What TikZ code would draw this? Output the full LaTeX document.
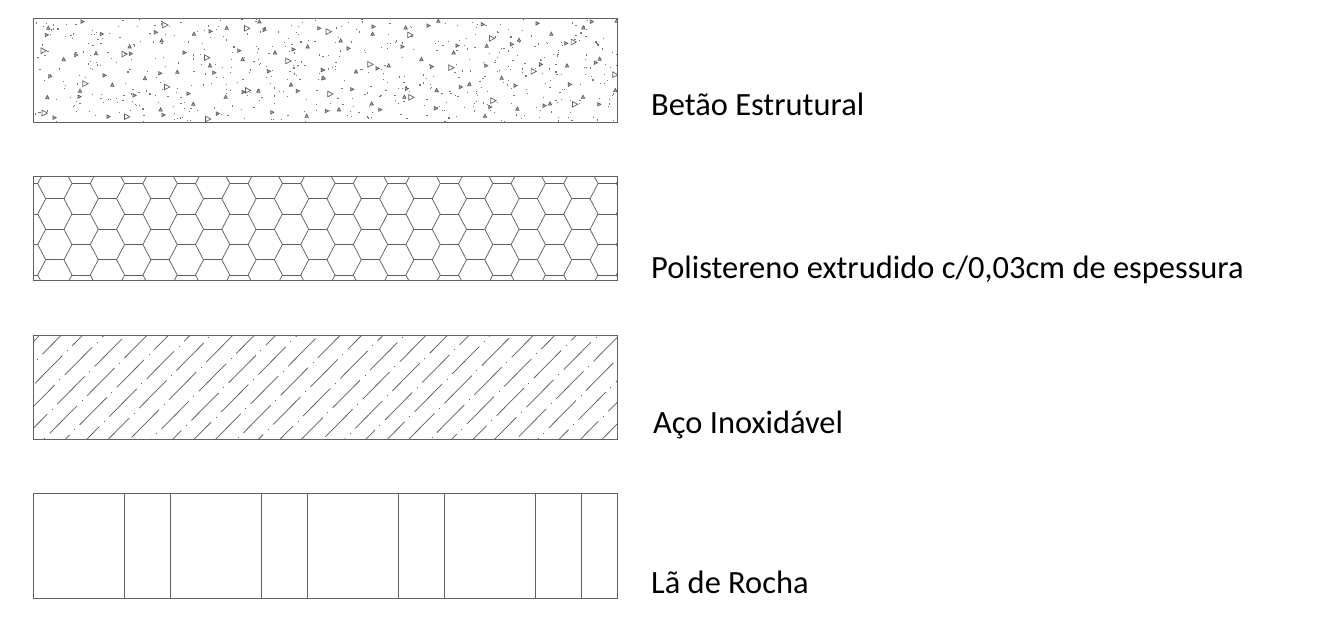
\documentclass[tikz,border=0pt]{standalone}
\usepackage{fontspec}
\setmainfont{Carlito}
\definecolor{lin}{HTML}{606060}
\newcommand{\trr}[4]{\draw[tri,#4] ({#1-#3*0.8},{#2-#3}) -- ({#1+#3*1.1},{#2}) -- ({#1-#3*0.8},{#2+#3}) -- cycle;}
\newcommand{\tru}[3]{\draw[tri,fill=lin!50] ({#1-#3},{#2+#3*0.8}) -- ({#1},{#2-#3*1.1}) -- ({#1+#3},{#2+#3*0.8}) -- cycle;}
\tikzset{
  frame/.style={draw=lin,line width=0.95pt},
  hexline/.style={draw=lin,line width=0.75pt},
  hatchline/.style={draw=lin,line width=0.75pt},
  tri/.style={draw=lin,line width=0.7pt},
  lab/.style={anchor=base west,inner sep=0pt,font=\fontsize{32.45}{36}\selectfont,text=black}
}
\begin{document}
\begin{tikzpicture}[x=1pt,y=-1pt]
\useasboundingbox (0,0) rectangle (1338,630);
% concrete
\begin{scope}
\clip (33.3,18.3) rectangle (617.7,122);
\pgfmathsetseed{4711}
\foreach \n in {1,...,560}{
  \pgfmathsetmacro{\dx}{33.5+584*rnd}
  \pgfmathsetmacro{\dy}{18.5+103.5*rnd}
  \fill[lin!85] (\dx,\dy) rectangle ++(1.2,1.2);
}
\foreach \ox/\oy/\lr/\lb/\lu in {
 25/10/{172/35,65/75,230/72,392/67,556/64,718/60,882/55,153/135,317/131,478/128,642/122,805/118,75/199,238/196,163/260,405/190,567/188,490/251,328/256,655/246,731/184,818/243,893/180,895/205,88/323,250/320,415/315,578/311,741/307}/{420/45,665/55,55/122,298/132,545/143,789/153,180/221,425/231,668/241,58/309,305/320,548/327}/{70/54,410/92,507/72,605/54,703/35,213/130,116/148,314/110,555/167,653/148,750/128,848/110,262/225,165/243,67/262,360/205,457/186,505/282,602/261,700/243,798/224,407/299,845/318},
 320/10/{160/50,325/47,488/43,652/40,815/35,85/115,247/110,412/107,575/103,738/100,8/180,172/175,335/170,498/167,662/163,827/158,586/227,749/223,96/238,260/236,422/231,20/303,180/299,347/295,510/291,673/287,837/283}/{25/65,270/75,515/85,760/96,150/163,393/173,640/184,885/194,30/252,273/262,519/272,764/283}/{158/72,257/53,355/33,790/53,890/33,62/92,401/128,500/108,597/90,694/72,10/204,108/185,206/167,304/148,741/167,839/147,545/204,886/241,350/241,448/223,57/299,155/281,253/261,495/318,592/297,690/281,789/261}}{
  \foreach \a/\b in \lr { \trr{\ox+\a/3}{\oy+\b/3}{1.7}{fill=lin!50} }
  \foreach \a/\b in \lb { \trr{\ox+\a/3}{\oy+\b/3}{2.8}{} }
  \foreach \a/\b in \lu { \tru{\ox+\a/3}{\oy+\b/3}{1.7} }
}
\end{scope}
\draw[frame] (33.3,18.3) rectangle (617.7,122);
% hexagons
\begin{scope}
\clip (33.3,176.5) rectangle (617.7,280.7);
\foreach \k/\y in {-1/183.5,1/183.5,3/183.5,5/183.5,7/183.5,9/183.5,11/183.5,13/183.5,15/183.5,17/183.5,19/183.5,21/183.5,0/198.75,2/198.75,4/198.75,6/198.75,8/198.75,10/198.75,12/198.75,14/198.75,16/198.75,18/198.75,20/198.75,22/198.75}{
  \pgfmathsetmacro{\xa}{45.7+26.3*\k}
  \foreach \m in {-1,0,1,2,3}{
    \pgfmathsetmacro{\yy}{\y+30.5*\m}
    \draw[hexline] (\xa,\yy) -- ({\xa+18.3},\yy);
    \draw[hexline] ({\xa+26.3},{\yy-15.25}) -- ({\xa+18.3},\yy) -- ({\xa+26.3},{\yy+15.25});
  }
}
\end{scope}
\draw[frame] (33.3,176.5) rectangle (617.7,280.7);
% steel hatch
\begin{scope}
\clip (33.3,335) rectangle (617.7,439);
\foreach \j in {-6,...,34}{
  \foreach \i in {-14,...,8}{
    \pgfmathsetmacro{\px}{35+37.3*\i+29.8*\j}
    \pgfmathsetmacro{\py}{383.3-37.6*\i-8.4*\j}
    \ifdim \px pt>-10pt \ifdim \px pt<640pt \ifdim \py pt>320pt \ifdim \py pt<480pt
      \draw[hatchline] (\px,\py) -- ({\px+27.3},{\py-27.6});
      \fill[lin] ({\px+32.3-0.5},{\py-32.6-0.5}) rectangle ++(1,1);
    \fi\fi\fi\fi
  }
}
\end{scope}
\draw[frame] (33.3,335) rectangle (617.7,439);
% rock wool
\draw[frame] (33.3,493) rectangle (617.7,598);
\foreach \x in {124,170,261,307,398,444,535,581}{
  \draw[hatchline] (\x,493) -- (\x,598);
}
% labels
\node[lab] (betao) at (651,115) {Betão Estrutural};
\node[lab] (poli) at (651,278) {Polistereno extrudido c/0,03cm de espessura};
\node[lab] (aco) at (653,433) {Aço Inoxidável};
\node[lab] (la) at (651,593) {Lã de Rocha};
\end{tikzpicture}
\end{document}
